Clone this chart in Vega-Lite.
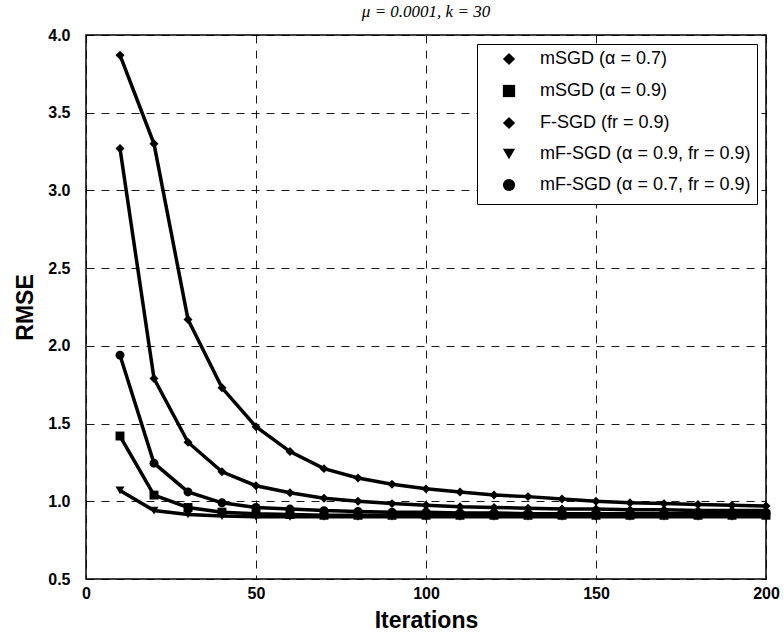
{
  "$schema": "https://vega.github.io/schema/vega-lite/v6.json",
  "width": 680,
  "height": 544,
  "autosize": {"type": "none"},
  "padding": {"left": 86, "top": 35, "right": 18, "bottom": 62},
  "background": "white",
  "title": {"text": "μ = 0.0001, k = 30", "font": "Liberation Serif", "fontStyle": "italic", "fontSize": 17, "fontWeight": "normal", "offset": 6, "color": "black"},
  "config": {
    "view": {"stroke": "black", "strokeWidth": 1.5},
    "axis": {
      "grid": true, "gridColor": "black", "gridDash": [8, 7], "gridWidth": 1, "gridOpacity": 0.9,
      "domain": false, "ticks": false,
      "labelFont": "Liberation Sans", "labelFontSize": 16, "labelFontWeight": "bold", "labelColor": "black", "labelFlush": false,
      "titleFont": "Liberation Sans", "titleFontSize": 23, "titleFontWeight": "bold", "titleColor": "black"
    }
  },
  "data": {"values": [
    {"x": 10, "series": "mSGD (α = 0.7)", "rmse": 3.87},
    {"x": 20, "series": "mSGD (α = 0.7)", "rmse": 3.30},
    {"x": 30, "series": "mSGD (α = 0.7)", "rmse": 2.17},
    {"x": 40, "series": "mSGD (α = 0.7)", "rmse": 1.73},
    {"x": 50, "series": "mSGD (α = 0.7)", "rmse": 1.48},
    {"x": 60, "series": "mSGD (α = 0.7)", "rmse": 1.32},
    {"x": 70, "series": "mSGD (α = 0.7)", "rmse": 1.21},
    {"x": 80, "series": "mSGD (α = 0.7)", "rmse": 1.15},
    {"x": 90, "series": "mSGD (α = 0.7)", "rmse": 1.11},
    {"x": 100, "series": "mSGD (α = 0.7)", "rmse": 1.08},
    {"x": 110, "series": "mSGD (α = 0.7)", "rmse": 1.06},
    {"x": 120, "series": "mSGD (α = 0.7)", "rmse": 1.04},
    {"x": 130, "series": "mSGD (α = 0.7)", "rmse": 1.03},
    {"x": 140, "series": "mSGD (α = 0.7)", "rmse": 1.015},
    {"x": 150, "series": "mSGD (α = 0.7)", "rmse": 1.0},
    {"x": 160, "series": "mSGD (α = 0.7)", "rmse": 0.99},
    {"x": 170, "series": "mSGD (α = 0.7)", "rmse": 0.985},
    {"x": 180, "series": "mSGD (α = 0.7)", "rmse": 0.98},
    {"x": 190, "series": "mSGD (α = 0.7)", "rmse": 0.975},
    {"x": 200, "series": "mSGD (α = 0.7)", "rmse": 0.97},
    {"x": 10, "series": "F-SGD (fr = 0.9)", "rmse": 3.27},
    {"x": 20, "series": "F-SGD (fr = 0.9)", "rmse": 1.79},
    {"x": 30, "series": "F-SGD (fr = 0.9)", "rmse": 1.38},
    {"x": 40, "series": "F-SGD (fr = 0.9)", "rmse": 1.19},
    {"x": 50, "series": "F-SGD (fr = 0.9)", "rmse": 1.10},
    {"x": 60, "series": "F-SGD (fr = 0.9)", "rmse": 1.055},
    {"x": 70, "series": "F-SGD (fr = 0.9)", "rmse": 1.02},
    {"x": 80, "series": "F-SGD (fr = 0.9)", "rmse": 1.0},
    {"x": 90, "series": "F-SGD (fr = 0.9)", "rmse": 0.985},
    {"x": 100, "series": "F-SGD (fr = 0.9)", "rmse": 0.975},
    {"x": 110, "series": "F-SGD (fr = 0.9)", "rmse": 0.965},
    {"x": 120, "series": "F-SGD (fr = 0.9)", "rmse": 0.96},
    {"x": 130, "series": "F-SGD (fr = 0.9)", "rmse": 0.955},
    {"x": 140, "series": "F-SGD (fr = 0.9)", "rmse": 0.95},
    {"x": 150, "series": "F-SGD (fr = 0.9)", "rmse": 0.95},
    {"x": 160, "series": "F-SGD (fr = 0.9)", "rmse": 0.945},
    {"x": 170, "series": "F-SGD (fr = 0.9)", "rmse": 0.945},
    {"x": 180, "series": "F-SGD (fr = 0.9)", "rmse": 0.94},
    {"x": 190, "series": "F-SGD (fr = 0.9)", "rmse": 0.94},
    {"x": 200, "series": "F-SGD (fr = 0.9)", "rmse": 0.94},
    {"x": 10, "series": "mF-SGD (α = 0.7, fr = 0.9)", "rmse": 1.94},
    {"x": 20, "series": "mF-SGD (α = 0.7, fr = 0.9)", "rmse": 1.245},
    {"x": 30, "series": "mF-SGD (α = 0.7, fr = 0.9)", "rmse": 1.06},
    {"x": 40, "series": "mF-SGD (α = 0.7, fr = 0.9)", "rmse": 0.99},
    {"x": 50, "series": "mF-SGD (α = 0.7, fr = 0.9)", "rmse": 0.96},
    {"x": 60, "series": "mF-SGD (α = 0.7, fr = 0.9)", "rmse": 0.95},
    {"x": 70, "series": "mF-SGD (α = 0.7, fr = 0.9)", "rmse": 0.94},
    {"x": 80, "series": "mF-SGD (α = 0.7, fr = 0.9)", "rmse": 0.935},
    {"x": 90, "series": "mF-SGD (α = 0.7, fr = 0.9)", "rmse": 0.93},
    {"x": 100, "series": "mF-SGD (α = 0.7, fr = 0.9)", "rmse": 0.93},
    {"x": 110, "series": "mF-SGD (α = 0.7, fr = 0.9)", "rmse": 0.925},
    {"x": 120, "series": "mF-SGD (α = 0.7, fr = 0.9)", "rmse": 0.925},
    {"x": 130, "series": "mF-SGD (α = 0.7, fr = 0.9)", "rmse": 0.92},
    {"x": 140, "series": "mF-SGD (α = 0.7, fr = 0.9)", "rmse": 0.92},
    {"x": 150, "series": "mF-SGD (α = 0.7, fr = 0.9)", "rmse": 0.92},
    {"x": 160, "series": "mF-SGD (α = 0.7, fr = 0.9)", "rmse": 0.92},
    {"x": 170, "series": "mF-SGD (α = 0.7, fr = 0.9)", "rmse": 0.92},
    {"x": 180, "series": "mF-SGD (α = 0.7, fr = 0.9)", "rmse": 0.92},
    {"x": 190, "series": "mF-SGD (α = 0.7, fr = 0.9)", "rmse": 0.92},
    {"x": 200, "series": "mF-SGD (α = 0.7, fr = 0.9)", "rmse": 0.92},
    {"x": 10, "series": "mSGD (α = 0.9)", "rmse": 1.42},
    {"x": 20, "series": "mSGD (α = 0.9)", "rmse": 1.04},
    {"x": 30, "series": "mSGD (α = 0.9)", "rmse": 0.96},
    {"x": 40, "series": "mSGD (α = 0.9)", "rmse": 0.93},
    {"x": 50, "series": "mSGD (α = 0.9)", "rmse": 0.92},
    {"x": 60, "series": "mSGD (α = 0.9)", "rmse": 0.915},
    {"x": 70, "series": "mSGD (α = 0.9)", "rmse": 0.91},
    {"x": 80, "series": "mSGD (α = 0.9)", "rmse": 0.91},
    {"x": 90, "series": "mSGD (α = 0.9)", "rmse": 0.91},
    {"x": 100, "series": "mSGD (α = 0.9)", "rmse": 0.91},
    {"x": 110, "series": "mSGD (α = 0.9)", "rmse": 0.91},
    {"x": 120, "series": "mSGD (α = 0.9)", "rmse": 0.91},
    {"x": 130, "series": "mSGD (α = 0.9)", "rmse": 0.91},
    {"x": 140, "series": "mSGD (α = 0.9)", "rmse": 0.91},
    {"x": 150, "series": "mSGD (α = 0.9)", "rmse": 0.91},
    {"x": 160, "series": "mSGD (α = 0.9)", "rmse": 0.91},
    {"x": 170, "series": "mSGD (α = 0.9)", "rmse": 0.91},
    {"x": 180, "series": "mSGD (α = 0.9)", "rmse": 0.91},
    {"x": 190, "series": "mSGD (α = 0.9)", "rmse": 0.91},
    {"x": 200, "series": "mSGD (α = 0.9)", "rmse": 0.91},
    {"x": 10, "series": "mF-SGD (α = 0.9, fr = 0.9)", "rmse": 1.07},
    {"x": 20, "series": "mF-SGD (α = 0.9, fr = 0.9)", "rmse": 0.94},
    {"x": 30, "series": "mF-SGD (α = 0.9, fr = 0.9)", "rmse": 0.915},
    {"x": 40, "series": "mF-SGD (α = 0.9, fr = 0.9)", "rmse": 0.905},
    {"x": 50, "series": "mF-SGD (α = 0.9, fr = 0.9)", "rmse": 0.9},
    {"x": 60, "series": "mF-SGD (α = 0.9, fr = 0.9)", "rmse": 0.9},
    {"x": 70, "series": "mF-SGD (α = 0.9, fr = 0.9)", "rmse": 0.9},
    {"x": 80, "series": "mF-SGD (α = 0.9, fr = 0.9)", "rmse": 0.9},
    {"x": 90, "series": "mF-SGD (α = 0.9, fr = 0.9)", "rmse": 0.9},
    {"x": 100, "series": "mF-SGD (α = 0.9, fr = 0.9)", "rmse": 0.9},
    {"x": 110, "series": "mF-SGD (α = 0.9, fr = 0.9)", "rmse": 0.9},
    {"x": 120, "series": "mF-SGD (α = 0.9, fr = 0.9)", "rmse": 0.9},
    {"x": 130, "series": "mF-SGD (α = 0.9, fr = 0.9)", "rmse": 0.9},
    {"x": 140, "series": "mF-SGD (α = 0.9, fr = 0.9)", "rmse": 0.9},
    {"x": 150, "series": "mF-SGD (α = 0.9, fr = 0.9)", "rmse": 0.9},
    {"x": 160, "series": "mF-SGD (α = 0.9, fr = 0.9)", "rmse": 0.9},
    {"x": 170, "series": "mF-SGD (α = 0.9, fr = 0.9)", "rmse": 0.9},
    {"x": 180, "series": "mF-SGD (α = 0.9, fr = 0.9)", "rmse": 0.9},
    {"x": 190, "series": "mF-SGD (α = 0.9, fr = 0.9)", "rmse": 0.9},
    {"x": 200, "series": "mF-SGD (α = 0.9, fr = 0.9)", "rmse": 0.9}
  ]},
  "encoding": {
    "x": {"field": "x", "type": "quantitative", "title": "Iterations",
      "scale": {"domain": [0, 200], "nice": false},
      "axis": {"values": [0, 50, 100, 150, 200], "labelPadding": 6, "titlePadding": 8}},
    "y": {"field": "rmse", "type": "quantitative", "title": "RMSE",
      "scale": {"domain": [0.5, 4.0], "nice": false, "zero": false},
      "axis": {"values": [0.5, 1.0, 1.5, 2.0, 2.5, 3.0, 3.5, 4.0], "format": ".1f", "labelPadding": 16, "titlePadding": 10}}
  },
  "layer": [
    {
      "mark": {"type": "line", "color": "black", "strokeWidth": 3.5},
      "encoding": {"detail": {"field": "series"}}
    },
    {
      "mark": {"type": "point", "filled": true, "color": "black", "size": 80, "opacity": 1},
      "encoding": {
        "shape": {"field": "series", "type": "nominal",
          "scale": {"domain": ["mSGD (α = 0.7)", "mSGD (α = 0.9)", "F-SGD (fr = 0.9)", "mF-SGD (α = 0.9, fr = 0.9)", "mF-SGD (α = 0.7, fr = 0.9)"],
            "range": ["diamond", "square", "diamond", "triangle-down", "circle"]},
          "legend": {"title": null, "orient": "top-right", "offset": 9,
            "strokeColor": "black", "fillColor": "white", "padding": 6,
            "labelFont": "Liberation Sans", "labelFontSize": 18, "labelColor": "black", "labelLimit": 400,
            "symbolSize": 150, "symbolOffset": 17, "labelOffset": 22, "rowPadding": 6,
            "symbolStrokeColor": "black", "symbolStrokeWidth": 3,
            "encode": {"symbols": {
              "stroke": {"value": "black"},
              "strokeWidth": {"value": 3},
              "fill": {"value": "black"}
            }}}}
      }
    }
  ]
}
